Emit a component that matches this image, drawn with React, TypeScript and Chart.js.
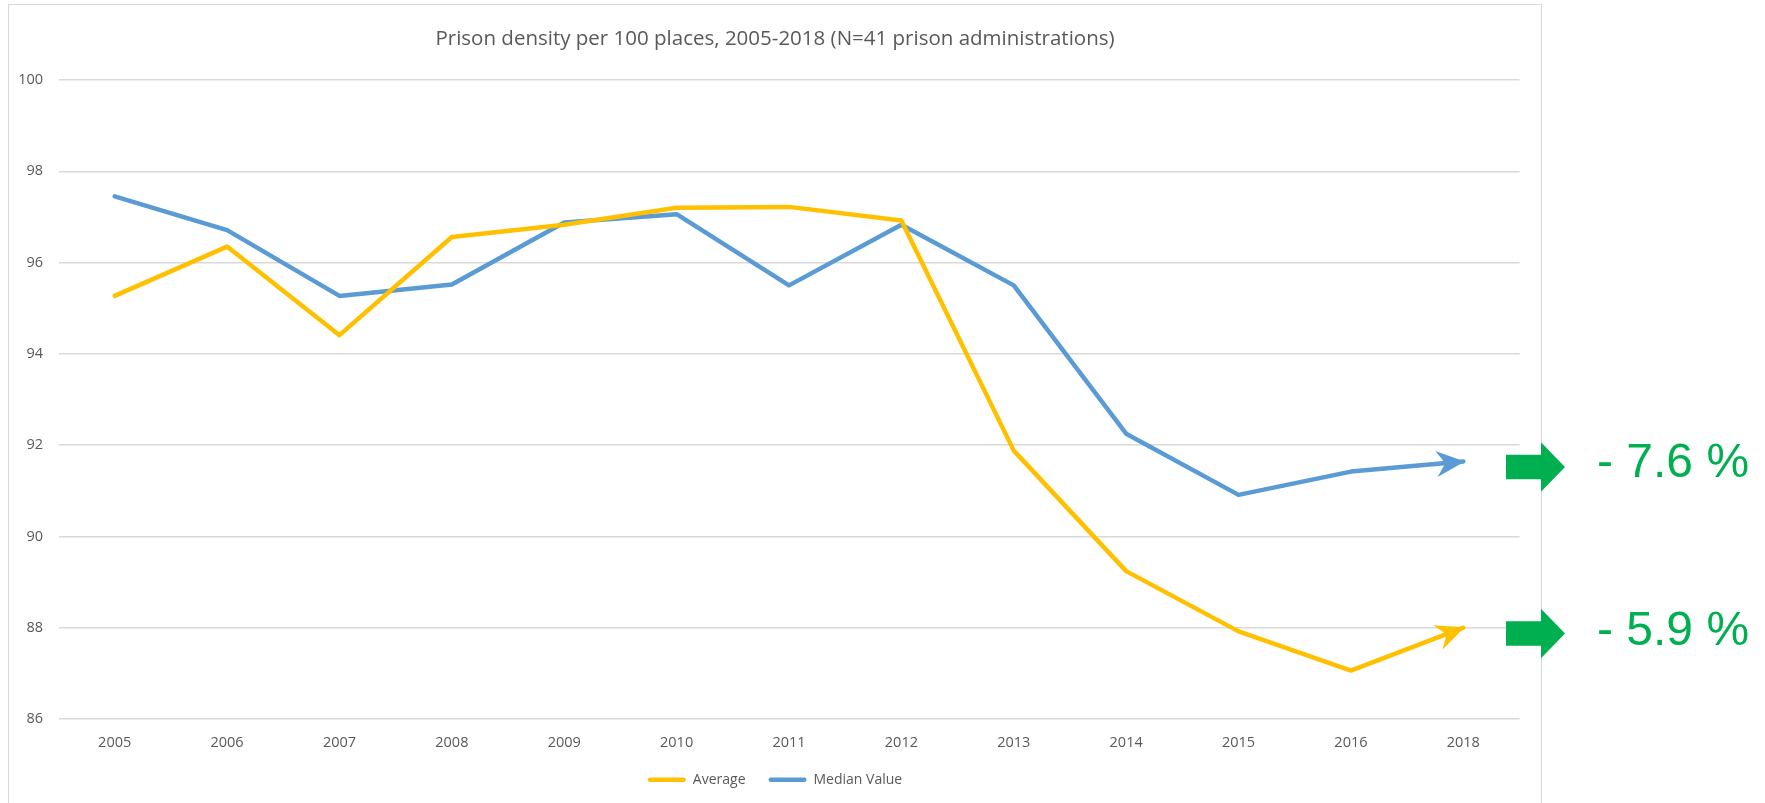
import React, { useEffect, useRef } from "react";
import { Chart, registerables } from "chart.js";

Chart.register(...registerables);

const TITLE = "Prison density per 100 places, 2005-2018 (N=41 prison administrations)";
const YEARS = ["2005", "2006", "2007", "2008", "2009", "2010", "2011", "2012", "2013", "2014", "2015", "2016", "2018"];
const AVERAGE = [95.27, 96.35, 94.41, 96.56, 96.83, 97.2, 97.22, 96.92, 91.88, 89.24, 87.92, 87.06, 88.0];
const MEDIAN = [97.45, 96.71, 95.27, 95.52, 96.88, 97.06, 95.5, 96.83, 95.5, 92.25, 90.91, 91.42, 91.64];
const SERIES_NAMES = ["Average", "Median Value"];
const SERIES_COLORS = ["#FFC000", "#5B9BD5"];
const Y_MIN = 86;
const Y_MAX = 100;
const Y_STEP = 2;
const CHANGE_LABELS = ["- 7.6 %", "- 5.9 %"];

const GREEN = "#00B050";
const GRAY_TEXT = "#595959";

const arrowHeads = {
  id: "arrowHeads",
  afterDatasetsDraw(chart: any) {
    const ctx = chart.ctx;
    chart.data.datasets.forEach((ds: any, i: number) => {
      const meta = chart.getDatasetMeta(i);
      const pts = meta.data;
      if (pts.length < 2) return;
      const a = pts[pts.length - 2];
      const b = pts[pts.length - 1];
      const ang = Math.atan2(b.y - a.y, b.x - a.x);
      const dx = Math.cos(ang), dy = Math.sin(ang);
      const nx = -dy, ny = dx;
      const L = 27, W = 13, N = 18;
      ctx.save();
      ctx.fillStyle = ds.borderColor;
      ctx.beginPath();
      ctx.moveTo(b.x + dx * 1.5, b.y + dy * 1.5);
      ctx.lineTo(b.x - dx * L + nx * W, b.y - dy * L + ny * W);
      ctx.lineTo(b.x - dx * N, b.y - dy * N);
      ctx.lineTo(b.x - dx * L - nx * W, b.y - dy * L - ny * W);
      ctx.closePath();
      ctx.fill();
      ctx.restore();
    });
  },
};

function ChartCanvas() {
  const ref = useRef<HTMLCanvasElement | null>(null);
  useEffect(() => {
    if (!ref.current) return;
    Chart.defaults.font.family = "'Open Sans', sans-serif";
    const chart = new Chart(ref.current, {
      type: "line",
      data: {
        labels: YEARS,
        datasets: [
          {
            label: SERIES_NAMES[0],
            data: AVERAGE,
            borderColor: SERIES_COLORS[0],
            backgroundColor: SERIES_COLORS[0],
            borderWidth: 4.5,
            pointRadius: 0,
            borderJoinStyle: "round",
            borderCapStyle: "round",
            tension: 0,
          },
          {
            label: SERIES_NAMES[1],
            data: MEDIAN,
            borderColor: SERIES_COLORS[1],
            backgroundColor: SERIES_COLORS[1],
            borderWidth: 4.5,
            pointRadius: 0,
            borderJoinStyle: "round",
            borderCapStyle: "round",
            tension: 0,
          },
        ],
      },
      options: {
        responsive: false,
        animation: false,
        devicePixelRatio: 1,
        layout: { padding: { left: 0, right: 0, top: 0, bottom: 6.3 } },
        plugins: {
          title: {
            display: true,
            text: TITLE,
            color: GRAY_TEXT,
            font: { size: 20.5, weight: "normal" },
            padding: { top: 22, bottom: 28.4 },
          },
          legend: {
            position: "bottom",
            labels: {
              boxWidth: 38,
              boxHeight: 4.5,
              padding: 23,
              color: GRAY_TEXT,
              font: { size: 14 },
              useBorderRadius: true,
              generateLabels: (c: any) =>
                c.data.datasets.map((d: any, i: number) => ({
                  text: d.label,
                  fillStyle: d.borderColor,
                  strokeStyle: d.borderColor,
                  lineWidth: 0,
                  hidden: false,
                  datasetIndex: i,
                  borderRadius: 2.2,
                  fontColor: GRAY_TEXT,
                })),
            },
          },
          tooltip: { enabled: false },
        },
        scales: {
          x: {
            type: "category",
            offset: true,
            grid: { display: false, drawTicks: false },
            border: { display: false },
            ticks: { color: GRAY_TEXT, font: { size: 14.5 }, padding: 15, maxRotation: 0, autoSkip: false },
            afterFit: (s: any) => { s.height = 30.7; },
          },
          y: {
            min: Y_MIN,
            max: Y_MAX,
            position: "left",
            grid: { color: "#D9D9D9", lineWidth: 1.5, drawTicks: false },
            border: { display: false },
            ticks: { stepSize: Y_STEP, color: GRAY_TEXT, font: { size: 14.5 }, padding: 15.5 },
            afterFit: (s: any) => { s.width = 49.5; },
          },
          y2: {
            position: "right",
            display: true,
            grid: { display: false, drawTicks: false },
            border: { display: false },
            ticks: { display: false },
            afterFit: (s: any) => { s.width = 21.5; },
          },
        },
      },
      plugins: [arrowHeads],
    } as any);
    return () => chart.destroy();
  }, []);
  return <canvas ref={ref} width={1532} height={798} style={{ display: "block" }} />;
}

function GreenArrow({ cy }: { cy: number }) {
  const x0 = 1506, x1 = 1541, x2 = 1565;
  const rh = 12.3, hh = 24.7;
  const pts = `${x0},${cy - rh} ${x1},${cy - rh} ${x1},${cy - hh} ${x2},${cy} ${x1},${cy + hh} ${x1},${cy + rh} ${x0},${cy + rh}`;
  return <polygon points={pts} fill={GREEN} />;
}

export default function App() {
  return (
    <div style={{ position: "fixed", left: 0, top: 0, width: 1765, height: 803, overflow: "hidden", background: "#fff" }}>
      <div
        style={{
          position: "absolute",
          left: 8,
          top: 4,
          width: 1534,
          height: 820,
          border: "1px solid #D9D9D9",
          boxSizing: "border-box",
          overflow: "hidden",
        }}
      >
        <ChartCanvas />
      </div>
      <svg
        width={1765}
        height={803}
        style={{ position: "absolute", left: 0, top: 0, pointerEvents: "none" }}
      >
        <GreenArrow cy={467} />
        <GreenArrow cy={633.5} />
        <text x={1597} y={476.5} fill={GREEN} fontSize={48} fontFamily="'Liberation Sans', Arial, sans-serif">
          {CHANGE_LABELS[0]}
        </text>
        <text x={1597} y={645} fill={GREEN} fontSize={48} fontFamily="'Liberation Sans', Arial, sans-serif">
          {CHANGE_LABELS[1]}
        </text>
      </svg>
    </div>
  );
}
